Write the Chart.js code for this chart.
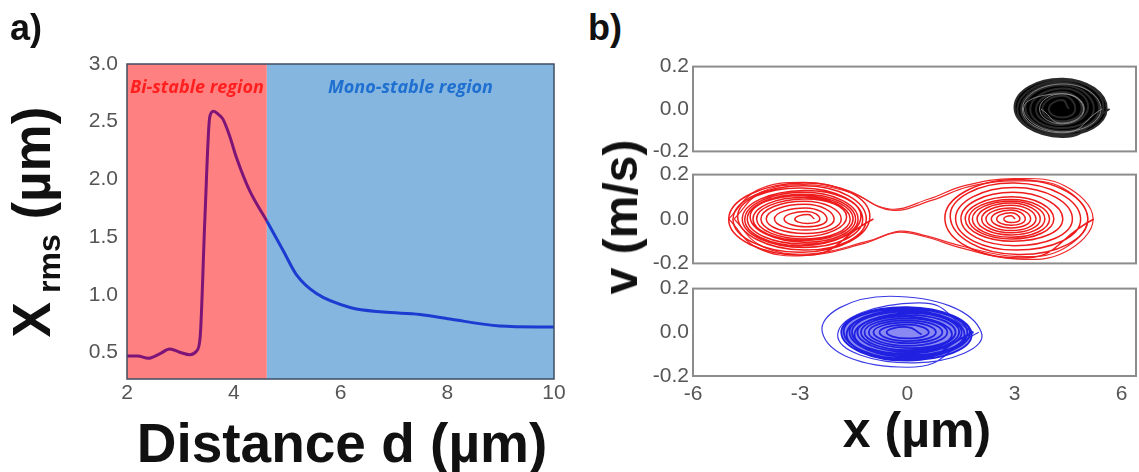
<!DOCTYPE html>
<html>
<head>
<meta charset="utf-8">
<script src="https://cdn.jsdelivr.net/npm/chart.js@4.4.1/dist/chart.umd.min.js"></script>
<style>
  html, body { margin: 0; padding: 0; background: #fff; }
  #wrap { position: relative; width: 1139px; height: 472px; overflow: hidden; font-family: "Liberation Sans", Arial, sans-serif; }
  canvas { position: absolute; }
  .lbl { position: absolute; font-weight: bold; color: #111; line-height: 1; white-space: nowrap; }
  .ctr { transform: translate(-50%, -50%); }
  .rot { transform: translate(-50%, -50%) rotate(-90deg); }
  .sub { font-size: 32px; position: relative; top: 10px; margin-left: 9px; }
</style>
</head>
<body>
<div id="wrap">
  <canvas id="chartA" width="570" height="472" style="left:0;top:0"></canvas>
  <canvas id="chartB1" width="509" height="118" style="left:630px;top:50px"></canvas>
  <canvas id="chartB2" width="509" height="122" style="left:630px;top:158px"></canvas>
  <canvas id="chartB3" width="509" height="134" style="left:630px;top:272px"></canvas>

  <div class="lbl" style="left:10px;top:10px;font-size:36px">a)</div>
  <div class="lbl" style="left:588px;top:10px;font-size:36px">b)</div>
  <div class="lbl ctr" style="left:342px;top:443px;font-size:55px">Distance d (µm)</div>
  <div class="lbl rot" style="left:31px;top:222px;font-size:53px">X<span class="sub">rms</span> (µm)</div>
  <div class="lbl rot" style="left:621px;top:217px;font-size:48px">v (m/s)</div>
  <div class="lbl ctr" style="left:917px;top:430px;font-size:50px">x (µm)</div>
</div>

<script>
// ── panel a: Xrms vs distance ──
const distD = [2.00, 2.20, 2.40, 2.62, 2.80, 3.00, 3.18, 3.30, 3.37, 3.46, 3.55, 3.62, 3.72, 3.80, 3.92, 4.05, 4.30, 4.62, 4.93, 5.18, 5.55, 6.18, 6.80, 7.49, 8.05, 8.98, 10.0];
const xrms = [0.47, 0.47, 0.45, 0.49, 0.53, 0.50, 0.48, 0.51, 0.63, 1.67, 2.54, 2.59, 2.56, 2.52, 2.38, 2.19, 1.90, 1.64, 1.38, 1.17, 1.01, 0.89, 0.85, 0.83, 0.79, 0.73, 0.72];
const regionEdges = [2, 4.62, 10];
const regionNames = ['Bi-stable region', 'Mono-stable region'];
const dTicks = [2, 4, 6, 8, 10];
const xrmsTicks = [0.5, 1.0, 1.5, 2.0, 2.5, 3.0];

// ── panel b: phase portraits (x in µm, v in m/s) ──
const phaseTicksX = [-6, -3, 0, 3, 6];
const phaseTicksV = [-0.2, 0.0, 0.2];

const topX = [5.66, 4.32, 3.00, 4.36, 5.58, 4.30, 3.08, 4.35, 5.49, 4.31, 3.18, 4.36, 5.37, 4.30, 3.30, 4.35, 5.22, 4.31, 3.44, 4.34, 5.06, 4.30, 3.60, 4.34, 4.88, 4.31, 3.78, 4.33, 4.70, 4.32, 3.96, 4.33, 4.52];
const topV = [0.00, -0.132, 0.01, 0.143, 0.00, -0.125, 0.00, 0.134, 0.01, -0.115, 0.00, 0.124, 0.00, -0.104, 0.01, 0.112, 0.00, -0.090, 0.00, 0.097, 0.01, -0.075, 0.00, 0.080, 0.00, -0.058, 0.00, 0.062, 0.00, -0.040, 0.00, 0.042, 0.00];
const topRingX = [5.45, 4.33, 3.22, 4.35, 5.42, 4.33, 3.25, 4.34, 4.95, 4.33, 3.70, 4.33, 4.93, 4.33, 3.74];
const topRingV = [0.00, -0.112, 0.00, 0.118, 0.00, -0.108, 0.00, 0.072, 0.00, -0.070, 0.00, 0.072, 0.00, -0.066, 0.00];

const redLeftX = [-0.95, -2.95, -5.00, -2.90, -1.05, -2.95, -4.88, -2.90, -1.15, -2.90, -4.75, -2.95, -1.25, -2.90, -4.62, -2.90,
  -1.30, -2.95, -4.55, -2.90, -1.38, -2.90, -4.48, -2.92, -1.45, -2.90, -4.40, -2.90, -1.52, -2.90, -4.32, -2.90,
  -1.60, -2.88, -4.22, -2.90, -1.70, -2.88, -4.10, -2.88, -1.85, -2.85, -3.95, -2.88, -2.05, -2.85, -3.72, -2.85,
  -2.25, -2.82, -3.45, -2.82, -2.45, -2.80, -3.15, -2.78, -2.60];
const redLeftV = [0.00, -0.163, 0.00, 0.162, 0.01, -0.150, 0.00, 0.150, 0.00, -0.140, 0.01, 0.140, 0.00, -0.128, 0.00, 0.128,
  0.01, -0.120, 0.00, 0.120, 0.00, -0.113, 0.00, 0.112, 0.00, -0.105, 0.01, 0.105, 0.00, -0.097, 0.00, 0.098,
  0.00, -0.090, 0.00, 0.090, 0.01, -0.080, 0.00, 0.080, 0.00, -0.065, 0.00, 0.066, 0.00, -0.050, 0.00, 0.050,
  0.00, -0.035, 0.00, 0.034, 0.00, -0.020, 0.00, 0.020, 0.00];
const redRightX = [5.22, 3.15, 1.05, 3.05, 5.05, 3.10, 1.20, 3.00, 4.85, 3.05, 1.35, 3.00, 4.62, 3.00, 1.50, 2.95,
  4.35, 2.95, 1.62, 2.92, 4.10, 2.92, 1.72, 2.90, 3.98, 2.90, 1.82, 2.90, 3.85, 2.90, 1.95, 2.90,
  3.72, 2.90, 2.08, 2.90, 3.60, 2.90, 2.20, 2.90, 3.45, 2.90, 2.35, 2.90, 3.30, 2.90, 2.50, 2.90,
  3.15, 2.90, 2.70, 2.90, 3.02];
const redRightV = [0.00, -0.176, 0.00, 0.178, 0.00, -0.160, 0.01, 0.162, 0.00, -0.140, 0.00, 0.142, 0.00, -0.120, 0.00, 0.120,
  0.00, -0.100, 0.00, 0.100, 0.00, -0.090, 0.00, 0.088, 0.00, -0.082, 0.00, 0.080, 0.00, -0.072, 0.00, 0.072,
  0.00, -0.062, 0.00, 0.062, 0.00, -0.052, 0.00, 0.050, 0.00, -0.040, 0.00, 0.040, 0.00, -0.028, 0.00, 0.028,
  0.00, -0.016, 0.00, 0.015, 0.00];
// orbits that go round both wells
const orbitAX = [-5.00, -4.20, -2.90, -1.70, -0.50, 0.60, 1.60, 3.00, 4.40, 5.20, 4.40, 3.00, 1.50, 0.50, -0.30, -1.20, -2.90, -4.20, -5.00];
const orbitAV = [0.00, 0.130, 0.165, 0.130, 0.045, 0.090, 0.150, 0.182, 0.150, 0.00, -0.150, -0.180, -0.130, -0.080, -0.060, -0.110, -0.165, -0.130, 0.00];
const orbitBX = [-4.85, -4.10, -2.90, -1.60, -0.45, 0.70, 1.70, 3.10, 4.35, 5.05, 4.30, 3.00, 1.60, 0.50, -0.20, -1.10, -2.80, -4.10, -4.85];
const orbitBV = [0.00, 0.120, 0.155, 0.120, 0.040, 0.085, 0.145, 0.172, 0.140, 0.00, -0.140, -0.168, -0.125, -0.075, -0.055, -0.100, -0.158, -0.120, 0.00];

// blue: two wide outer turns, then the dense core
const blueOuterX = [2.00, 0.00, -2.38, -0.50, 2.07, 0.20, -1.95, 0.30, 1.85];
const blueOuterV = [0.00, -0.160, 0.00, 0.165, 0.00, -0.140, -0.01, 0.135, 0.00];
const blueCoreX = [1.85, 0.00, -1.85, 0.00, 1.80, 0.05, -1.78, -0.05,
  1.75, 0.00, -1.70, 0.00, 1.68, 0.05, -1.62, 0.00, 1.60, 0.00, -1.55, 0.00, 1.52, 0.00, -1.48, 0.05,
  1.45, 0.00, -1.40, 0.00, 1.35, 0.00, -1.30, 0.00, 1.25, 0.00, -1.20, 0.00, 1.12, 0.00, -1.08, 0.00,
  0.98, 0.00, -0.95, 0.00, 0.80, 0.00, -0.78, 0.00, 0.60, 0.00, -0.58, 0.00, 0.40];
const blueCoreV = [0.00, -0.130, 0.00, 0.115, -0.01, -0.125, 0.00, 0.110,
  0.00, -0.120, -0.01, 0.105, 0.00, -0.113, 0.00, 0.100, -0.01, -0.105, 0.00, 0.095, 0.00, -0.098, -0.01, 0.088,
  0.00, -0.090, 0.00, 0.080, 0.00, -0.082, 0.00, 0.072, -0.01, -0.072, 0.00, 0.064, 0.00, -0.062, 0.00, 0.055,
  0.00, -0.050, 0.00, 0.045, 0.00, -0.040, 0.00, 0.035, 0.00, -0.028, 0.00, 0.024, -0.01];

Chart.defaults.font.family = '"Liberation Sans", Arial, sans-serif';
Chart.defaults.color = '#555';
Chart.defaults.animation = false;

const zip = (xs, ys) => xs.map((x, i) => ({ x, y: ys[i] }));
const fixTicks = list => axis => { axis.ticks = list.map(v => ({ value: v })); };

// draws the plot frame round the chart area
const boxPlugin = {
  id: 'box',
  afterDatasetsDraw(chart, args, opts) {
    const { ctx, chartArea: a } = chart;
    ctx.save();
    ctx.strokeStyle = opts.color;
    ctx.lineWidth = opts.width;
    ctx.strokeRect(a.left, a.top, a.right - a.left, a.bottom - a.top);
    ctx.restore();
  }
};

// shaded bi-stable / mono-stable bands with their labels
const regionPlugin = {
  id: 'regions',
  beforeDatasetsDraw(chart) {
    const { ctx, chartArea: a, scales: { x } } = chart;
    const fills = ['#ff8080', '#84b6e0'];
    const inks = ['#ff1f1f', '#1f6fd0'];
    ctx.save();
    for (let i = 0; i < regionNames.length; i++) {
      const x0 = x.getPixelForValue(regionEdges[i]);
      const x1 = x.getPixelForValue(regionEdges[i + 1]);
      ctx.fillStyle = fills[i];
      ctx.fillRect(x0, a.top, x1 - x0, a.bottom - a.top);
      ctx.fillStyle = inks[i];
      ctx.font = 'italic bold 18px "Open Sans", sans-serif';
      ctx.textAlign = 'center';
      ctx.textBaseline = 'middle';
      ctx.fillText(regionNames[i], (x0 + x1) / 2, a.top + 24);
    }
    ctx.restore();
  }
};

const edge = regionEdges[1];
new Chart(document.getElementById('chartA'), {
  type: 'line',
  data: {
    datasets: [{
      data: zip(distD, xrms),
      borderWidth: 3,
      pointRadius: 0,
      cubicInterpolationMode: 'monotone',
      borderColor: '#1c3bd0',
      segment: { borderColor: c => (c.p0.parsed.x < edge - 1e-6 ? '#7d1478' : '#1c3bd0') }
    }]
  },
  options: {
    responsive: false,
    layout: { padding: { left: 0, top: 64, right: 16, bottom: 0 } },
    plugins: { legend: { display: false }, tooltip: { enabled: false }, box: { color: '#3e4e62', width: 1.5 } },
    scales: {
      x: {
        type: 'linear', min: 2, max: 10,
        afterBuildTicks: fixTicks(dTicks),
        afterFit: s => { s.height = 93; },
        grid: { display: false, drawTicks: false }, border: { display: false },
        ticks: { font: { size: 21 }, padding: 2 }
      },
      y: {
        type: 'linear', min: 0.27, max: 3.0,
        afterBuildTicks: fixTicks(xrmsTicks),
        afterFit: s => { s.width = 127; },
        grid: { display: false, drawTicks: false }, border: { display: false },
        ticks: { font: { size: 21 }, padding: 9, callback: v => v.toFixed(1) }
      }
    }
  },
  plugins: [regionPlugin, boxPlugin]
});

function phaseLine(xs, vs, color, width) {
  return { data: zip(xs, vs), showLine: true, borderColor: color, borderWidth: width, pointRadius: 0, tension: 0.55 };
}

function phaseChart(id, datasets, showX) {
  return new Chart(document.getElementById(id), {
    type: 'scatter',
    data: { datasets },
    options: {
      responsive: false,
      layout: { padding: { left: 0, top: 15, right: 3, bottom: showX ? 0 : 15 } },
      plugins: { legend: { display: false }, tooltip: { enabled: false }, box: { color: '#8c8c8c', width: 2 } },
      scales: {
        x: {
          type: 'linear', min: -6, max: 6.4, display: showX,
          afterBuildTicks: fixTicks(phaseTicksX),
          afterFit: s => { s.height = showX ? 30 : 0; },
          grid: { display: false, drawTicks: false }, border: { display: false },
          ticks: { font: { size: 21 }, padding: 6 }
        },
        y: {
          type: 'linear', min: -0.2, max: 0.2,
          afterBuildTicks: fixTicks(phaseTicksV),
          afterFit: s => { s.width = 63; },
          grid: { display: false, drawTicks: false }, border: { display: false },
          ticks: { font: { size: 21 }, padding: 4, callback: v => v.toFixed(1) }
        }
      }
    },
    plugins: [boxPlugin]
  });
}

const blackFill = phaseLine(topX, topV, '#2a2a2a', 2);
blackFill.fill = 'shape';
blackFill.backgroundColor = '#000';
phaseChart('chartB1', [phaseLine(topRingX, topRingV, 'rgba(150,150,150,0.85)', 1), blackFill], false);

const redOrbitA = phaseLine(orbitAX, orbitAV, '#ee2a2a', 1.2);
const redOrbitB = phaseLine(orbitBX, orbitBV, '#ee2a2a', 1.2);
redOrbitA.tension = redOrbitB.tension = 0.4;
phaseChart('chartB2', [
  phaseLine(redLeftX, redLeftV, '#ee1c1c', 1.5),
  phaseLine(redRightX, redRightV, '#ee1c1c', 1.5),
  redOrbitA, redOrbitB
], false);

const blueCore = phaseLine(blueCoreX, blueCoreV, '#2020e0', 1.8);
blueCore.fill = 'shape';
blueCore.backgroundColor = 'rgba(40,40,230,0.55)';
phaseChart('chartB3', [blueCore, phaseLine(blueOuterX, blueOuterV, '#3a3ae6', 1.2)], true);
</script>
</body>
</html>
